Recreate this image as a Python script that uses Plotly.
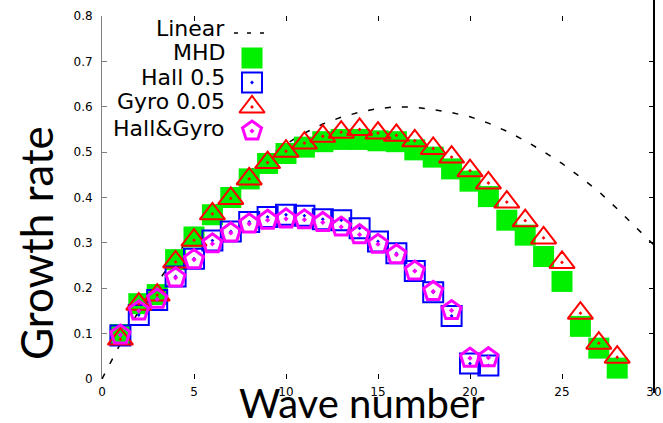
import plotly.graph_objects as go

# ---- data -------------------------------------------------------------
wave_k = list(range(1, 29))
mhd = [0.098, 0.166, 0.186, 0.263, 0.313, 0.362, 0.400, 0.441, 0.475, 0.497,
       0.511, 0.523, 0.528, 0.528, 0.525, 0.523, 0.505, 0.489, 0.463, 0.436,
       0.402, 0.350, 0.317, 0.270, 0.215, 0.116, 0.068, 0.024]
gyro = [0.088, 0.165, 0.185, 0.258, 0.306, 0.364, 0.398, 0.441, 0.477, 0.502,
        0.520, 0.535, 0.544, 0.550, 0.542, 0.537, 0.525, 0.508, 0.489, 0.459,
        0.432, 0.390, 0.349, 0.311, 0.257, 0.145, 0.079, 0.048]

hall_k = list(range(1, 22))
hall = [0.096, 0.141, 0.174, 0.226, 0.265, 0.305, 0.325, 0.346, 0.357, 0.362,
        0.360, 0.352, 0.350, 0.332, 0.303, 0.277, 0.238, 0.191, 0.139, 0.034,
        0.030]
hall_gyro = [0.097, 0.150, 0.176, 0.223, 0.263, 0.298, 0.322, 0.342, 0.350,
             0.353, 0.351, 0.345, 0.335, 0.318, 0.297, 0.274, 0.238, 0.193,
             0.151, 0.046, 0.047]

linear_k = list(range(0, 31))
linear = [0.0, 0.078, 0.150, 0.212, 0.270, 0.324, 0.373, 0.418, 0.457, 0.490,
          0.518, 0.542, 0.562, 0.577, 0.588, 0.596, 0.600, 0.599, 0.594, 0.587,
          0.578, 0.564, 0.546, 0.525, 0.501, 0.475, 0.445, 0.413, 0.375, 0.336,
          0.295]

x_ticks = [0, 5, 10, 15, 20, 25, 30]
y_ticks = [0, 0.1, 0.2, 0.3, 0.4, 0.5, 0.6, 0.7, 0.8]
y_tick_text = ["0", "0.1", "0.2", "0.3", "0.4", "0.5", "0.6", "0.7", "0.8"]

legend_labels = ["Linear", "MHD", "Hall 0.5", "Gyro 0.05", "Hall&Gyro"]

# ---- styles -----------------------------------------------------------
GREEN, BLUE, RED, MAGENTA = "#00f000", "#0000ff", "#ff0000", "#ff00ff"
styles = {
    "MHD": dict(symbol="square", size=21, color=GREEN, line=dict(width=0)),
    "Hall 0.5": dict(symbol="square-open-dot", size=20, color=BLUE,
                     line=dict(width=2, color=BLUE)),
    "Gyro 0.05": dict(symbol="triangle-up-open-dot", size=22, color=RED,
                      line=dict(width=2, color=RED)),
    "Hall&Gyro": dict(symbol="pentagon-open-dot", size=20, color=MAGENTA,
                      line=dict(width=3, color=MAGENTA)),
}
dash_line = dict(color="black", width=1.5, dash="6px,11px")

W, H = 663, 423
ML, MR, MT, MB = 102, 9, 16, 44
PW, PH = W - ML - MR, H - MT - MB


def px_x(p):
    return (p - ML) / PW


def px_y(p):
    return (H - MB - p) / PH


fig = go.Figure()

fig.add_trace(go.Scatter(x=linear_k, y=linear, mode="lines", line=dash_line,
                         hoverinfo="skip"))
series = [("MHD", wave_k, mhd), ("Hall 0.5", hall_k, hall),
          ("Gyro 0.05", wave_k, gyro), ("Hall&Gyro", hall_k, hall_gyro)]
for name, xs, ys in series:
    fig.add_trace(go.Scatter(x=xs, y=ys, mode="markers", name=name,
                             marker=styles[name], cliponaxis=False))

# mirrored tick axes (top / right)
fig.add_trace(go.Scatter(x=[], y=[], xaxis="x2", yaxis="y2", hoverinfo="skip"))

# legend: text on the left, sample on the right
key_x = px_x(252)
text_x = px_x(227)
text_rows = [28, 52.5, 77, 102, 128]
key_rows = [33, 58, 82.5, 107, 131]
fig.add_trace(go.Scatter(x=[px_x(234), px_x(268)], y=[px_y(key_rows[0])] * 2,
                         mode="lines", xaxis="x3", yaxis="y3",
                         line=dict(color="black", width=1.5, dash="4px,9px"),
                         hoverinfo="skip"))
for name, row in zip(legend_labels[1:], key_rows[1:]):
    fig.add_trace(go.Scatter(x=[key_x], y=[px_y(row)], mode="markers",
                             xaxis="x3", yaxis="y3", marker=styles[name],
                             cliponaxis=False, hoverinfo="skip"))

annotations = []
for label, row in zip(legend_labels, text_rows):
    annotations.append(dict(text=label, x=text_x, y=px_y(row), xref="paper",
                            yref="paper", xanchor="right", yanchor="middle",
                            showarrow=False,
                            font=dict(family="DejaVu Sans", size=22,
                                      color="black")))
annotations.append(dict(text="Wave number", x=px_x(362), y=px_y(403),
                        xref="paper", yref="paper", xanchor="center",
                        yanchor="middle", showarrow=False,
                        font=dict(family="Lato", size=40, color="black")))
annotations.append(dict(text="Growth rate", x=px_x(36), y=px_y(243),
                        xref="paper", yref="paper", xanchor="center",
                        yanchor="middle", textangle=-90, showarrow=False,
                        font=dict(family="Lato", size=44, color="black")))

tick_font = dict(family="DejaVu Sans", size=12, color="black")
common = dict(showgrid=False, zeroline=False, ticks="inside", ticklen=5)

fig.update_layout(
    width=W, height=H,
    margin=dict(l=ML, r=MR, t=MT, b=MB, autoexpand=False),
    paper_bgcolor="white", plot_bgcolor="white",
    showlegend=False,
    xaxis=dict(range=[0, 30], tickvals=x_ticks, tickcolor="black",
               showline=False, tickfont=tick_font, ticklabelstandoff=4,
               **common),
    yaxis=dict(range=[0, 0.8], tickvals=y_ticks, ticktext=y_tick_text,
               tickcolor="#7f7f7f", showline=True, linecolor="#7f7f7f",
               linewidth=1, tickfont=tick_font, ticklabelstandoff=6,
               **common),
    xaxis2=dict(range=[0, 30], tickvals=x_ticks, overlaying="x", side="top",
                anchor="y2", showticklabels=False, showline=False,
                tickcolor="black", **common),
    yaxis2=dict(range=[0, 0.8], tickvals=y_ticks, overlaying="y",
                side="right", anchor="x2", showticklabels=False,
                showline=False, tickcolor="black", **common),
    xaxis3=dict(range=[0, 1], overlaying="x", visible=False, anchor="y3"),
    yaxis3=dict(range=[0, 1], overlaying="y", visible=False, anchor="x3"),
    annotations=annotations,
    shapes=[dict(type="line", xref="paper", yref="paper", x0=1, x1=1,
                 y0=px_y(393), y1=px_y(0), line=dict(color="black", width=2))],
)

# keep the page exactly the figure's size (no scrollbars)
page_js = ("document.documentElement.style.overflow='hidden';"
           "document.body.style.overflow='hidden';"
           "document.body.style.margin='0';")

fig.write_html("out.html", post_script=page_js)
